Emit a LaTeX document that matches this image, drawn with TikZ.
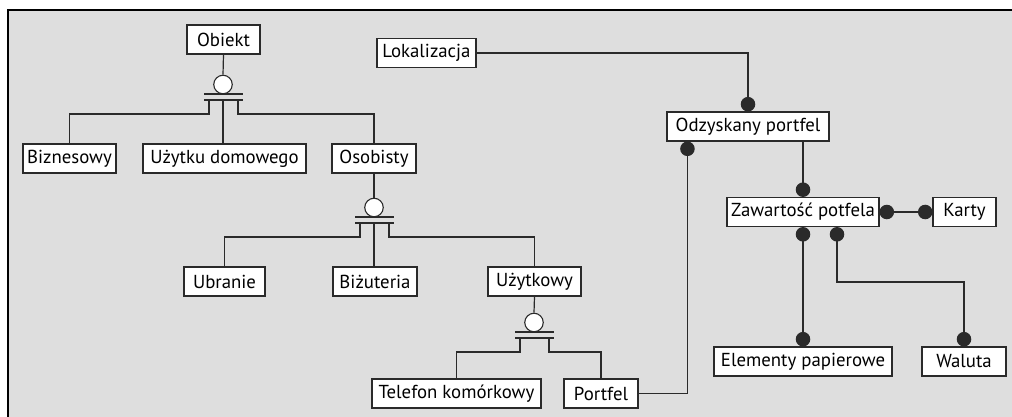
\documentclass[tikz,border=0pt]{standalone}
\usepackage{fontspec}
\setmainfont{PT Sans}
\usetikzlibrary{arrows.meta,calc}
\definecolor{bg}{HTML}{DEDEDE}
\definecolor{ln}{HTML}{2A2A2A}
\tikzset{
  box/.style={draw=ln, line width=1.1pt, fill=white, inner sep=0pt, minimum height=29pt, font=\fontsize{18.8}{21}\selectfont},
  conn/.style={draw=ln, line width=1.2pt},
  gencirc/.style={circle, draw=ln, line width=1.1pt, fill=white, minimum size=18.5pt, inner sep=0pt},
  bar/.style={draw=ln, line width=1.5pt},
  dotA/.style={conn, -{Circle[length=14.5pt,width=14.5pt]}},
  dotB/.style={conn, {Circle[length=14.5pt,width=14.5pt]}-},
  dotAB/.style={conn, {Circle[length=14.5pt,width=14.5pt]}-{Circle[length=14.5pt,width=14.5pt]}},
}
\begin{document}
\begin{tikzpicture}[x=1pt,y=-1pt]
\useasboundingbox (0,0) rectangle (1012,417);
\fill[bg] (8,10) rectangle (1012,417);
\draw[black, line width=1.6pt] (8,417) -- (8,10) -- (1012,10);

% boxes
\node[box, minimum width=73pt]  (obj)  at (223.5,39.5) {Obiekt};
\node[box, minimum width=99pt]  (lok)  at (426.5,53) {Lokalizacja};
\node[box, minimum width=93pt]  (biz)  at (69.5,158.5) {Biznesowy};
\node[box, minimum width=163pt] (dom)  at (224.5,158.5) {Użytku domowego};
\node[box, minimum width=84pt]  (oso)  at (374,158.5) {Osobisty};
\node[box, minimum width=162pt] (odz)  at (748,126.5) {Odzyskany portfel};
\node[box, minimum width=81pt]  (ubr)  at (224.5,281.5) {Ubranie};
\node[box, minimum width=84pt]  (biż)  at (375,281.5) {Biżuteria};
\node[box, minimum width=93pt]  (uzy)  at (534.5,281.5) {Użytkowy};
\node[box, minimum width=152pt] (zaw)  at (803,212) {Zawartość potfela};
\node[box, minimum width=63pt]  (kar)  at (964.5,212) {Karty};
\node[box, minimum width=169pt] (tel)  at (456.5,393.5) {Telefon komórkowy};
\node[box, minimum width=74pt]  (por)  at (601,393.5) {Portfel};
\node[box, minimum width=178pt] (ele)  at (803,361.5) {Elementy papierowe};
\node[box, minimum width=84pt]  (wal)  at (964,361.5) {Waluta};

% generalization 1
\node[gencirc] (g1) at (223,84.5) {};
\draw[conn] (obj.south) -- (g1.north);
\draw[bar] ($(g1)+(-19,9.5)$) -- ($(g1)+(20,9.5)$);
\draw[bar] ($(g1)+(-19,15.5)$) -- ($(g1)+(20,15.5)$);
\draw[conn] ($(g1)+(-14,15.5)$) -- ++(0,14) -| (biz.north);
\draw[conn] ($(g1)+(0,15.5)$) -- (dom.north -| g1);
\draw[conn] ($(g1)+(15,15.5)$) -- ++(0,14) -| (oso.north);

% generalization 2
\node[gencirc] (g2) at (374,207.5) {};
\draw[conn] (oso.south) -- (g2.north);
\draw[bar] ($(g2)+(-19,9.5)$) -- ($(g2)+(20,9.5)$);
\draw[bar] ($(g2)+(-19,15.5)$) -- ($(g2)+(20,15.5)$);
\draw[conn] ($(g2)+(-14,15.5)$) -- ++(0,14) -| (ubr.north);
\draw[conn] ($(g2)+(0,15.5)$) -- (biż.north -| g2);
\draw[conn] ($(g2)+(15,15.5)$) -- ++(0,14) -| (uzy.north);

% generalization 3
\node[gencirc] (g3) at (534,322.5) {};
\draw[conn] (uzy.south) -- (g3.north);
\draw[bar] ($(g3)+(-19,9.5)$) -- ($(g3)+(20,9.5)$);
\draw[bar] ($(g3)+(-19,15.5)$) -- ($(g3)+(20,15.5)$);
\draw[conn] ($(g3)+(-14,15.5)$) -- ++(0,14) -| (tel.north);
\draw[conn] ($(g3)+(15,15.5)$) -- ++(0,14) -| (por.north);

% associations
\draw[dotA] (lok.east) -| (odz.north);
\draw[dotB] ($(odz.south west)+(21,0)$) |- (por.east);
\draw[dotA] (odz.south -| zaw.north) -- (zaw.north);
\draw[dotAB] (zaw.east) -- (kar.west);
\draw[dotAB] (zaw.south) -- (ele.north);
\draw[dotAB] ($(zaw.south)+(34,0)$) -- ++(0,55) -| (wal.north);
\end{tikzpicture}
\end{document}
